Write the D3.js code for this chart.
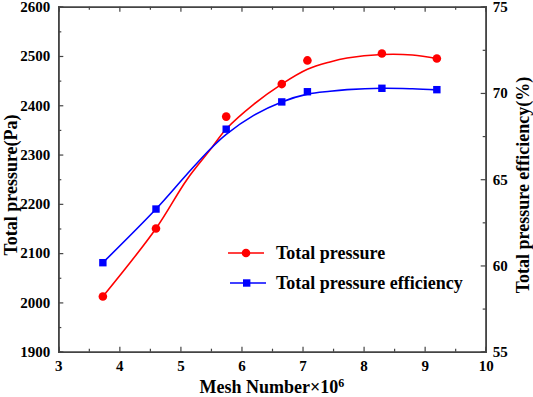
<!DOCTYPE html>
<html>
<head>
<meta charset="utf-8">
<script src="https://cdn.jsdelivr.net/npm/d3@7"></script>
<style>
  body { margin: 0; background: #fff; }
  svg text { font-family: "Liberation Serif", "Times New Roman", Times, serif; font-weight: bold; }
</style>
</head>
<body>
<div id="chart"></div>
<script>
// measured points
var meshX = [3.73, 4.6, 5.75, 6.66, 7.08, 8.3, 9.2];
var pressure = [2012, 2150, 2377, 2443, 2491, 2505, 2495];
var efficiency = [60.16, 63.27, 67.9, 69.48, 70.07, 70.27, 70.19];

// fitted curves
var fitX = [3.73, 4.6, 5.1, 5.49, 5.75, 6.2, 6.66, 7.08, 7.45, 7.73, 8.3, 8.8, 9.2];
var pressureFit = [2012, 2150, 2248, 2310, 2352, 2402, 2443, 2473, 2488, 2496, 2503, 2502, 2495];
var efficiencyFit = [60.16, 63.27, 65.26, 66.75, 67.6, 68.7, 69.48, 69.93, 70.1, 70.19, 70.27, 70.24, 70.18];

var xTicks = [3, 4, 5, 6, 7, 8, 9, 10];
var leftTicks = [1900, 2000, 2100, 2200, 2300, 2400, 2500, 2600];
var rightTicks = [55, 60, 65, 70, 75];

var FONT = '"Liberation Serif", "Times New Roman", Times, serif';

var margin = {top: 6.7, right: 47.3, bottom: 45.3, left: 58.3},
    width = 533 - margin.left - margin.right,
    height = 397 - margin.top - margin.bottom;

var svg = d3.select("#chart")
    .append("svg")
    .attr("width", 533)
    .attr("height", 397)
    .append("g")
    .attr("transform", "translate(" + margin.left + "," + margin.top + ")");

var x = d3.scaleLinear().domain([3, 10]).range([0, width]);
var yL = d3.scaleLinear().domain([1900, 2600]).range([height, 0]);
var yR = d3.scaleLinear().domain([55, 75]).range([height, 0]);

var axisColor = "#444";

function styleAxis(g) {
    g.attr("font-family", FONT).attr("font-size", 15).attr("font-weight", "bold");
    g.select(".domain").attr("stroke", axisColor).attr("stroke-width", 1.6);
    g.selectAll(".tick line").attr("stroke", axisColor).attr("stroke-width", 1.2);
    g.selectAll("text").attr("fill", "#000");
}

// minor ticks
var xMinor = d3.range(3.5, 10, 1);
var lMinor = d3.range(1950, 2600, 100);
var rMinor = d3.range(57.5, 75, 5);

svg.append("g").attr("transform", "translate(0," + height + ")")
    .call(d3.axisBottom(x).tickValues(xMinor).tickSize(-3).tickFormat(""))
    .call(styleAxis);
svg.append("g")
    .call(d3.axisTop(x).tickValues(xMinor).tickSize(-3).tickFormat(""))
    .call(styleAxis);
svg.append("g")
    .call(d3.axisLeft(yL).tickValues(lMinor).tickSize(-3).tickFormat(""))
    .call(styleAxis);
svg.append("g").attr("transform", "translate(" + width + ",0)")
    .call(d3.axisRight(yR).tickValues(rMinor).tickSize(-3).tickFormat(""))
    .call(styleAxis);

// major ticks
svg.append("g").attr("transform", "translate(0," + height + ")")
    .call(d3.axisBottom(x).tickValues(xTicks).tickSize(-5).tickPadding(9).tickFormat(d3.format("d")))
    .call(styleAxis);
svg.append("g")
    .call(d3.axisTop(x).tickValues(xTicks).tickSize(-5).tickFormat(""))
    .call(styleAxis);
svg.append("g")
    .call(d3.axisLeft(yL).tickValues(leftTicks).tickSize(-5).tickPadding(8).tickFormat(d3.format("d")))
    .call(styleAxis);
svg.append("g").attr("transform", "translate(" + width + ",0)")
    .call(d3.axisRight(yR).tickValues(rightTicks).tickSize(-5).tickPadding(7).tickFormat(d3.format("d")))
    .call(styleAxis);

// fitted lines
var lineL = d3.line().x(function (d, i) { return x(fitX[i]); }).y(function (d) { return yL(d); }).curve(d3.curveCatmullRom.alpha(0.5));
var lineR = d3.line().x(function (d, i) { return x(fitX[i]); }).y(function (d) { return yR(d); }).curve(d3.curveCatmullRom.alpha(0.5));

svg.append("path").datum(pressureFit)
    .attr("fill", "none").attr("stroke", "#ff0000").attr("stroke-width", 1.6)
    .attr("d", lineL);
svg.append("path").datum(efficiencyFit)
    .attr("fill", "none").attr("stroke", "#0000ff").attr("stroke-width", 1.6)
    .attr("d", lineR);

// markers
svg.append("g").selectAll("circle")
    .data(pressure)
    .enter().append("circle")
    .attr("cx", function (d, i) { return x(meshX[i]); })
    .attr("cy", function (d) { return yL(d); })
    .attr("r", 4.3)
    .attr("fill", "#ff0000");

svg.append("g").selectAll("rect")
    .data(efficiency)
    .enter().append("rect")
    .attr("x", function (d, i) { return x(meshX[i]) - 3.7; })
    .attr("y", function (d) { return yR(d) - 3.7; })
    .attr("width", 7.4)
    .attr("height", 7.4)
    .attr("fill", "#0000ff");

// legend
var legend = svg.append("g")
    .attr("font-family", FONT).attr("font-weight", "bold")
    .attr("transform", "translate(" + (228 - margin.left) + "," + (253 - margin.top) + ")");
legend.append("line").attr("x1", 0).attr("x2", 36).attr("y1", 0).attr("y2", 0)
    .attr("stroke", "#ff0000").attr("stroke-width", 1.6);
legend.append("circle").attr("cx", 18).attr("cy", 0).attr("r", 4.3).attr("fill", "#ff0000");
legend.append("text").attr("x", 48).attr("y", 0).attr("dy", "0.35em")
    .attr("font-size", 18).text("Total pressure");

legend.append("line").attr("x1", 2).attr("x2", 38).attr("y1", 30).attr("y2", 30)
    .attr("stroke", "#0000ff").attr("stroke-width", 1.6);
legend.append("rect").attr("x", 15).attr("y", 26.3).attr("width", 7.4).attr("height", 7.4).attr("fill", "#0000ff");
legend.append("text").attr("x", 48).attr("y", 30).attr("dy", "0.35em")
    .attr("font-size", 18).text("Total pressure efficiency");

// axis titles
var xTitle = svg.append("text")
    .attr("font-family", FONT).attr("font-weight", "bold")
    .attr("x", width / 2)
    .attr("y", height + 41)
    .attr("text-anchor", "middle")
    .attr("font-size", 18);
xTitle.append("tspan").text("Mesh Number\u00d710");
xTitle.append("tspan").attr("dy", "-0.45em").attr("font-size", 12).text("6");

svg.append("text")
    .attr("font-family", FONT).attr("font-weight", "bold")
    .attr("transform", "translate(" + (-41.8) + "," + (185 - margin.top) + ") rotate(-90)")
    .attr("text-anchor", "middle")
    .attr("font-size", 18)
    .text("Total pressure(Pa)");

svg.append("text")
    .attr("font-family", FONT).attr("font-weight", "bold")
    .attr("transform", "translate(" + (width + 43) + "," + (185 - margin.top) + ") rotate(-90)")
    .attr("text-anchor", "middle")
    .attr("font-size", 18)
    .text("Total pressure efficiency(%)");
</script>
</body>
</html>
